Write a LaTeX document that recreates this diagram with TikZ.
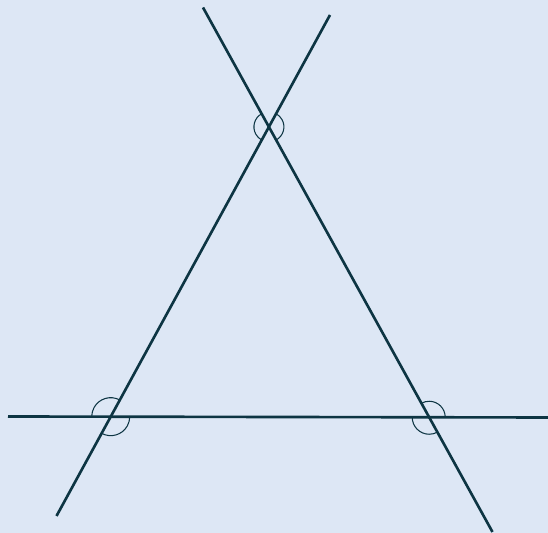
\documentclass[tikz,border=0pt]{standalone}
\usetikzlibrary{calc}
\definecolor{bgblue}{HTML}{DDE7F5}
\definecolor{ink}{HTML}{0D3543}

\begin{document}
\begin{tikzpicture}[x=0.02cm,y=0.02cm,
    ray/.style={draw=ink,line width=1.5pt},
    angmark/.style={draw=ink,line width=0.6pt}]
  \fill[bgblue] (0,0) rectangle (548,533);
  \useasboundingbox (0,0) rectangle (548,533);
  % ends of the three lines
  \coordinate (l1a) at (56.5,17);
  \coordinate (l1b) at (330,518);
  \coordinate (l2a) at (203,525.5);
  \coordinate (l2b) at (492.5,1);
  \coordinate (l3a) at (8,116.5);
  \coordinate (l3b) at (548,115.5);
  % corners of the triangle
  \coordinate (A) at (intersection of l1a--l1b and l2a--l2b);
  \coordinate (B) at (intersection of l1a--l1b and l3a--l3b);
  \coordinate (C) at (intersection of l2a--l2b and l3a--l3b);
  \draw[ray] (l1a) -- (l1b);
  \draw[ray] (l2a) -- (l2b);
  \draw[ray] (l3a) -- (l3b);
  % angle marks
  \draw[angmark] (A) ++(118.9:0.3cm) arc[start angle=118.9,end angle=241.4,radius=0.3cm];
  \draw[angmark] (A) ++(-61.1:0.3cm) arc[start angle=-61.1,end angle=61.4,radius=0.3cm];
  \draw[angmark] (B) ++(61.4:0.38cm) arc[start angle=61.4,end angle=180,radius=0.38cm];
  \draw[angmark] (B) ++(241.4:0.38cm) arc[start angle=241.4,end angle=360,radius=0.38cm];
  \draw[angmark] (C) ++(0:0.32cm) arc[start angle=0,end angle=118.9,radius=0.32cm];
  \draw[angmark] (C) ++(180:0.34cm) arc[start angle=180,end angle=298.9,radius=0.34cm];
\end{tikzpicture}
\end{document}
